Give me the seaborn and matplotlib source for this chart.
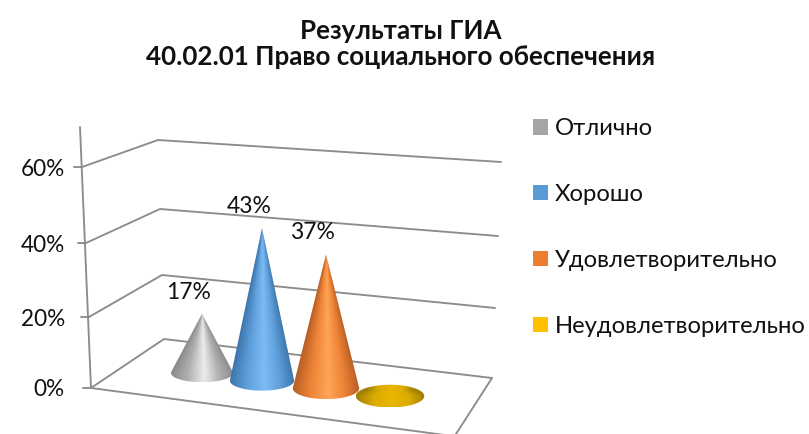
import numpy as np
import matplotlib
matplotlib.use("Agg")
import matplotlib.pyplot as plt
from matplotlib.patches import Patch, PathPatch
from matplotlib.path import Path
import seaborn as sns

# ---- data ----
title_lines = ["Результаты ГИА", "40.02.01 Право социального обеспечения"]
categories = ["Отлично", "Хорошо", "Удовлетворительно", "Неудовлетворительно"]
values = [17, 43, 37, 3]
value_labels = ["17%", "43%", "37%", ""]
tick_values = [0, 20, 40, 60]
tick_labels = ["0%", "20%", "40%", "60%"]
legend_colors = ["#A5A5A5", "#5B9BD5", "#ED7D31", "#FFC000"]
edge_colors = ["#8a8a8a", "#3d76ab", "#b95f26", "#a08000"]
mid_colors = ["#b0b0b0", "#5f9fdb", "#ee8436", "#dcac00"]
light_colors = ["#ececec", "#7cbcf6", "#ffa458", "#e8b500"]

sns.set_theme(style="white")
plt.rcParams["font.family"] = ["Lato", "Open Sans", "DejaVu Sans"]

W, H = 809, 434
fig = plt.figure(figsize=(W / 100, H / 100), dpi=100, facecolor="white")
ax = fig.add_axes([0, 0, 1, 1])
ax.axis("off")

# axes units: x = category slot, y = percent
CAT_PX, PCT_PX, X0_PX, Y0_PX = 62.7, 3.55, 202, 373
def to_data(px, py):
    return (px - X0_PX) / CAT_PX, (Y0_PX - py) / PCT_PX

xlim = (to_data(0, 0)[0], to_data(W, 0)[0])
ylim = (to_data(0, H)[1], to_data(0, 0)[1])

# frame layout (pixels of the 3-D box) for each gridline
front_px = [(91, 388), (89, 317), (86, 243), (82, 167)]
back_px = [(164, 339), (162, 275), (160, 209), (158, 140)]
right_px = [(492, 378), (495, 308), (498, 236), (501, 162)]
line_kw = dict(color="#8c8c8c", lw=1.35, solid_capstyle="round", zorder=1)
for f, b, r in zip(front_px, back_px, right_px):
    pts = np.array([to_data(*f), to_data(*b), to_data(*r)])
    ax.plot(pts[:, 0], pts[:, 1], **line_kw)
    tx, ty = to_data(f[0] - 8, f[1])
    ax.plot([tx, to_data(*f)[0]], [ty, ty], **line_kw)

pts = np.array([to_data(80, 127), to_data(91, 388)])
ax.plot(pts[:, 0], pts[:, 1], **line_kw)
pts = np.array([to_data(91, 388), to_data(454.5, 436.3), to_data(492, 378)])
ax.plot(pts[:, 0], pts[:, 1], **line_kw)

for v, lab, f in zip(tick_values, tick_labels, front_px):
    ax.text(to_data(65, 0)[0], to_data(0, f[1] + 2)[1], lab, ha="right", va="center",
            fontsize=16.3, color="#111111", zorder=5)

# cones: perspective layout of the four slots
SLOT_X = [0.0, 0.957, 1.978, 2.999]
SHEAR = -7.7 / PCT_PX
def cone(i, value):
    xc = SLOT_X[i]
    yb = SHEAR * i
    a = 0.495 + 0.017 * i
    b = 2.6 + 0.2 * i
    h = value * (0.98 + 0.02 * i)
    s = np.arcsin(min(b / h, 1.0))
    arc = np.linspace(np.pi - s, 2 * np.pi + s, 120)
    ex = xc + a * np.cos(arc)
    ey = yb + b * np.sin(arc)
    outline = np.vstack([[xc, yb + h], np.column_stack([ex, ey]), [xc, yb + h]])
    codes = [Path.MOVETO] + [Path.LINETO] * (len(outline) - 2) + [Path.CLOSEPOLY]
    clip = PathPatch(Path(outline, codes), transform=ax.transData, fc="none", ec="none")
    ax.add_patch(clip)

    cmap = sns.blend_palette([edge_colors[i], mid_colors[i], light_colors[i],
                              mid_colors[i], edge_colors[i]], as_cmap=True)
    top = yb + max(h, b)
    gx = np.linspace(xc - a, xc + a, 260)
    gy = np.linspace(yb - b, top, 400)
    X, Y = np.meshgrid(gx, gy)
    apex = max(h, 1.4 * b)
    floor = 0.02 if h > b else 0.7
    frac = np.clip((yb + apex - Y) / apex, floor, 1.0)
    t = np.clip((X - xc) / (a * frac), -1, 1)
    # highlight slightly right of the centre
    u = np.where(t < 0.06, (t + 1) / 1.06 * 0.5, 0.5 + (t - 0.06) / 0.94 * 0.5)
    im = ax.imshow(u, extent=(xc - a, xc + a, yb - b, top), origin="lower",
                   cmap=cmap, vmin=0, vmax=1, aspect="auto", zorder=2 + i * 0.1,
                   interpolation="bilinear")
    im.set_clip_path(clip)
    return xc, yb + h

for i, (val, lab) in enumerate(zip(values, value_labels)):
    tx, tip = cone(i, val)
    if lab:
        ax.annotate(lab, (tx, tip), xytext=(-9.5, 15.5), textcoords="offset points",
                    ha="center", va="center", fontsize=16.5, color="#111111", zorder=6)

ax.set_xlim(xlim)
ax.set_ylim(ylim)

handles = [Patch(facecolor=c, edgecolor="none", label=n) for c, n in zip(legend_colors, categories)]
fig.legend(handles=handles, loc="upper left", bbox_to_anchor=(526 / W, 1 - 111 / H),
           frameon=False, fontsize=17.2, handlelength=0.63, handleheight=0.63,
           handletextpad=0.26, labelspacing=1.88, borderpad=0.3, borderaxespad=0,
           labelcolor="#111111")

fig.text(401 / W, 1 - 44 / H, "\n".join(title_lines), ha="center", va="center",
         fontsize=18.7, fontweight="bold", color="#111111", linespacing=1.1)

fig.savefig("out.png", dpi=100, facecolor="white")
